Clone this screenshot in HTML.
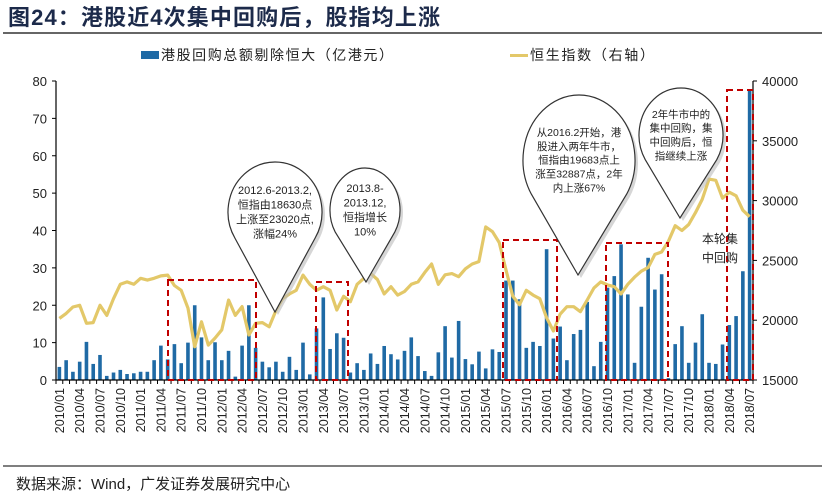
<!DOCTYPE html>
<html><head><meta charset="utf-8">
<style>
body{margin:0;background:#fff;}
svg text{font-family:"Liberation Sans","Noto Sans CJK SC",sans-serif;}
</style></head>
<body>
<svg id="c" width="826" height="497" xmlns="http://www.w3.org/2000/svg">
<text x="8" y="25" font-size="22" font-weight="bold" fill="#1c2a4a" textLength="432">图24：港股近4次集中回购后，股指均上涨</text>
<line x1="3" y1="33" x2="822" y2="33" stroke="#333" stroke-width="1.5"/>
<g>
<rect x="141" y="51" width="18" height="8" fill="#1f6aa5"/>
<text x="161" y="60" font-size="14" fill="#222" textLength="232">港股回购总额剔除恒大（亿港元）</text>
<rect x="510" y="54" width="18" height="3" fill="#e3c869"/>
<text x="530" y="60" font-size="14" fill="#222" textLength="124">恒生指数（右轴）</text>
</g>
<g id="plot"></g>
<line x1="3" y1="466" x2="822" y2="466" stroke="#333" stroke-width="1.2"/>
<text x="16" y="489" font-size="15" fill="#222">数据来源：Wind，广发证券发展研究中心</text>
</svg>
<script>
const months = [];
for (let y = 2010; y <= 2018; y++) for (let m = 1; m <= 12; m++) { if (y === 2018 && m > 7) break; months.push(y + '/' + String(m).padStart(2, '0')); }
const buyback = [3.5,5.3,2.2,4.9,10.2,4.3,6.7,1.1,2.0,2.7,1.6,1.8,2.2,2.2,5.3,9.2,5.5,9.6,4.5,10,20,11.4,5.3,10.1,5.3,7.8,0.9,9.2,20,8.6,4.9,3.4,4.9,2.2,6.2,2.7,10,1.5,13.8,22.1,8.3,12.5,11.3,2.0,4.5,2.7,7.1,4.3,9.1,6.9,5.5,7.8,11.4,6.4,2.4,1.1,7.4,14.4,6.0,15.8,5.6,4.2,7.6,3.1,8.2,7.5,26.6,26.6,21.6,8.6,10.2,9.1,35,11.1,14.3,5.3,12.3,13.4,20.9,3.7,10.2,24.7,27.8,36.3,22.9,4.6,19.6,32.7,24.2,28.3,0.5,9.6,14.4,4.6,10,17.6,4.6,4.3,9.5,14.7,17.1,29.1,77.5];
const hsi = [20150,20570,21100,21250,19740,19800,21250,20400,21800,23000,23200,23000,23500,23350,23500,23700,23770,22900,22500,21000,17780,19870,17920,18500,19200,21690,20400,21140,18760,19740,19800,19450,20800,21800,22200,22500,23770,23000,22500,22800,22500,20850,22000,21550,23000,23500,23900,23400,22200,22800,22100,22400,23000,23200,24000,24700,23000,23800,23900,23640,24300,24700,24900,27800,27400,26500,24200,22000,21300,22500,22100,21800,20200,19100,20500,21130,21130,20710,21690,22700,23200,22950,22800,22200,23000,23600,24100,24400,25500,25700,26600,27900,27500,28000,29000,30100,31800,31700,30200,30700,30400,29200,28650];
const leftTicks = [0,10,20,30,40,50,60,70,80];
const rightTicks = [15000,20000,25000,30000,35000,40000];

const NS = 'http://www.w3.org/2000/svg';
const g = document.getElementById('plot');
const X0 = 56, X1 = 753, Y0 = 380, Y1 = 81;
const step = (X1 - X0) / months.length;
const xc = i => X0 + step * (i + 0.5);
const yL = v => Y0 - (v / 80) * (Y0 - Y1);
const yR = v => Y0 - ((v - 15000) / 25000) * (Y0 - Y1);
function el(tag, attrs, parent) { const e = document.createElementNS(NS, tag); for (const k in attrs) e.setAttribute(k, attrs[k]); (parent || g).appendChild(e); return e; }

buyback.forEach((v, i) => {
  const b = el('rect', {x: xc(i) - 1.8, y: yL(v), width: 3.6, height: Y0 - yL(v), fill: '#1f6aa5'});
  
  
});
let d = '';
hsi.forEach((v, i) => { d += (i ? 'L' : 'M') + xc(i).toFixed(1) + ',' + yR(v).toFixed(1); });
const ln = el('path', {d: d, fill: 'none', stroke: '#e3c869', 'stroke-width': 3.2, 'stroke-linejoin': 'round'});



const la = el('line', {x1: X0, y1: Y1, x2: X0, y2: Y0, stroke: '#000', 'stroke-width': 1.2});
 
const ra = el('line', {x1: X1, y1: Y1, x2: X1, y2: Y0, stroke: '#000', 'stroke-width': 1.2});
 
const xa = el('line', {x1: X0, y1: Y0, x2: X1, y2: Y0, stroke: '#000', 'stroke-width': 1.2});
 
leftTicks.forEach(v => {
  el('line', {x1: X0 - 4, y1: yL(v), x2: X0, y2: yL(v), stroke: '#000'});
  const t = el('text', {x: X0 - 9, y: yL(v) + 5, 'font-size': 13, 'text-anchor': 'end', fill: '#222'});
  t.textContent = v;
   
});
rightTicks.forEach(v => {
  el('line', {x1: X1, y1: yR(v), x2: X1 + 4, y2: yR(v), stroke: '#000'});
  const t = el('text', {x: X1 + 9, y: yR(v) + 5, 'font-size': 13, fill: '#222'});
  t.textContent = v;
   
});
months.forEach((m, i) => {
  el('line', {x1: X0 + step * i, y1: Y0, x2: X0 + step * i, y2: Y0 + 4, stroke: '#000'});
  if (i % 3 === 0) {
    const t = el('text', {x: 0, y: 0, 'font-size': 12.5, 'text-anchor': 'end', fill: '#222', transform: 'translate(' + (xc(i) + 4.5) + ',388) rotate(-90)'});
    t.textContent = m;
     
  }
});
el('line', {x1: X1, y1: Y0, x2: X1, y2: Y0 + 4, stroke: '#000'});

[[168,280,256],[316,282,348],[503,240,557],[606,243,668],[727,90,753]].forEach((r, k) => {
  const b = el('rect', {x: r[0], y: r[1], width: r[2] - r[0], height: Y0 - r[1], fill: 'none', stroke: '#c00000', 'stroke-width': 2, 'stroke-dasharray': '6,4'});
  
  
});

function balloon(cx, cy, rx, ry, tx, ty, lines, fs, name) {
  const a1 = 0.55, a2 = Math.PI - 0.55;
  const p1x = cx + rx * Math.cos(a1), p1y = cy + ry * Math.sin(a1);
  const p2x = cx + rx * Math.cos(a2), p2y = cy + ry * Math.sin(a2);
  const d = 'M' + p1x + ',' + p1y + ' A' + rx + ',' + ry + ' 0 1 0 ' + p2x + ',' + p2y + ' L' + tx + ',' + ty + ' Z';
  const sh = el('path', {d: d, fill: '#bbb', opacity: 0.6, transform: 'translate(3,3)'});
   
  const p = el('path', {d: d, fill: '#fff', stroke: '#333', 'stroke-width': 1.2});
   
  const lh = fs * 1.32;
  lines.forEach((s, j) => {
    const t = el('text', {x: cx, y: cy - (lines.length - 1) * lh / 2 + j * lh + fs * 0.35, 'font-size': fs, 'text-anchor': 'middle', fill: '#222'});
    t.textContent = s;
     
  });
}
balloon(275, 212, 47, 50, 275, 312, ['2012.6-2013.2,', '恒指由18630点', '上涨至23020点,', '涨幅24%'], 11, 'callout-2012');
balloon(365, 210, 35, 42, 366, 282, ['2013.8-', '2013.12,', '恒指增长', '10%'], 11, 'callout-2013');
balloon(579, 160, 56, 65, 578, 275, ['从2016.2开始，港', '股进入两年牛市，', '恒指由19683点上', '涨至32887点，2年', '内上涨67%'], 10.5, 'callout-2016');
balloon(681, 135, 42, 47, 680, 218, ['2年牛市中的', '集中回购，集', '中回购后，恒', '指继续上涨'], 10.5, 'callout-2017');
const t1 = el('text', {x: 720, y: 243, 'font-size': 12, 'text-anchor': 'middle', fill: '#222'}); t1.textContent = '本轮集';
 
const t2 = el('text', {x: 720, y: 262, 'font-size': 12, 'text-anchor': 'middle', fill: '#222'}); t2.textContent = '中回购';
 
</script>
</body></html>
